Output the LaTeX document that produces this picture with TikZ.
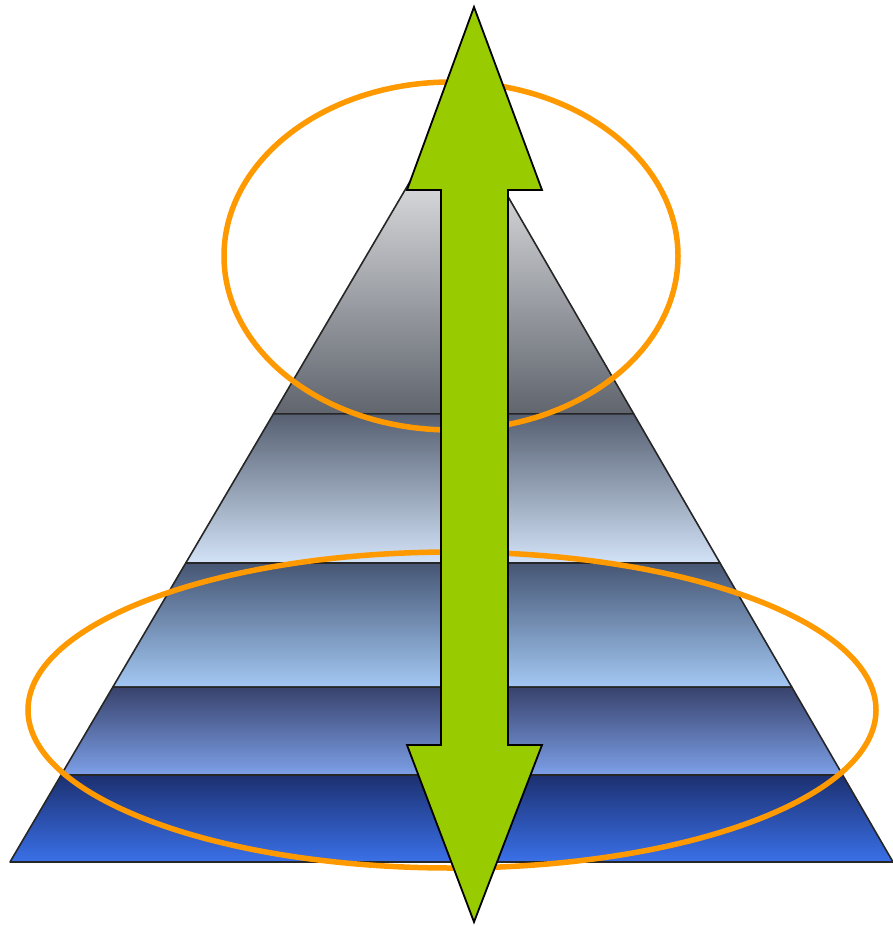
\documentclass[tikz,border=0pt]{standalone}
\usepackage{xcolor}
\definecolor{arrowgreen}{RGB}{153, 204, 0}
\definecolor{ringorange}{RGB}{255, 153, 0}
\definecolor{bandAmid}{RGB}{188, 192, 201}
\definecolor{bandAbot}{RGB}{96, 101, 110}
\definecolor{bandBtop}{RGB}{86, 96, 114}
\definecolor{bandBbot}{RGB}{210, 226, 247}
\definecolor{bandCtop}{RGB}{70, 86, 116}
\definecolor{bandCbot}{RGB}{163, 200, 243}
\definecolor{bandDtop}{RGB}{56, 66, 108}
\definecolor{bandDbot}{RGB}{125, 160, 232}
\definecolor{bandEtop}{RGB}{28, 48, 112}
\definecolor{bandEbot}{RGB}{58, 112, 232}
\usepackage{tikz}
\usetikzlibrary{calc}

\begin{document}
\begin{tikzpicture}[x=1pt, y=-1pt,
    band/.style={draw=black!85, line width=1.6pt, line join=round},
    ring/.style={draw=ringorange, line width=5.5pt},
    updown/.style={fill=arrowgreen, draw=black, line width=1.8pt, line join=miter}]
    \useasboundingbox (0,0) rectangle (893,926);
    % pyramid corners
    \coordinate (apex) at (455,105);
    \coordinate (bl) at (10,862);
    \coordinate (br) at (893,862);
    % top band
    \draw[band, top color=white, middle color=bandAmid, bottom color=bandAbot]
      (apex) -- ($(apex)!0.408!(bl)$) -- ($(apex)!0.408!(br)$) -- cycle;
    % lower bands
    \foreach \ta/\tb/\ctop/\cbot in {0.408/0.605/bandBtop/bandBbot,
                                     0.605/0.769/bandCtop/bandCbot,
                                     0.769/0.885/bandDtop/bandDbot,
                                     0.885/1/bandEtop/bandEbot}
      \draw[band, top color=\ctop, bottom color=\cbot]
        ($(apex)!\ta!(bl)$) -- ($(apex)!\tb!(bl)$) --
        ($(apex)!\tb!(br)$) -- ($(apex)!\ta!(br)$) -- cycle;
    % the two rings
    \draw[ring] (451,256) ellipse [x radius=227, y radius=174];
    \draw[ring] (452,710) ellipse [x radius=424, y radius=158];
    % double arrow
    \coordinate (tiptop) at (474,7);
    \coordinate (tipbot) at (474,922);
    \draw[updown] (tiptop) -- (542,190) -- (508,190) -- (508,745) -- (542,745)
        -- (tipbot) -- (407,745) -- (441,745) -- (441,190) -- (407,190) -- cycle;
\end{tikzpicture}
\end{document}
